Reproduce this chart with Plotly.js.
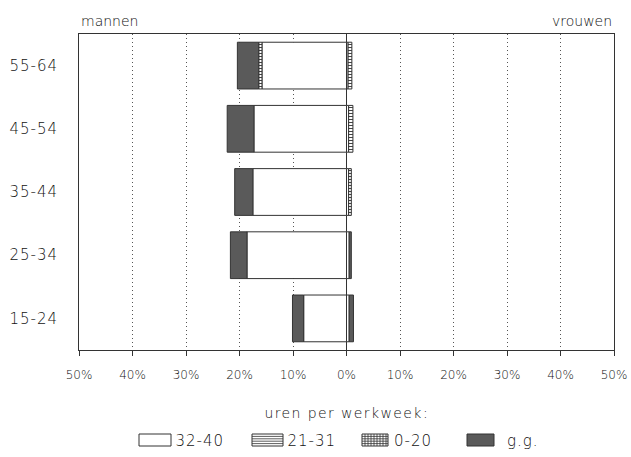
<!DOCTYPE html>
<html>
<head>
<meta charset="utf-8">
<script src="https://cdn.plot.ly/plotly-3.0.1.min.js"></script>
<style>html,body{margin:0;padding:0;background:#fff;}#chart{width:631px;height:457px;}
#chart .ytick text{letter-spacing:1px;}
</style>
</head>
<body>
<div id="chart"></div>
<script>
// Age groups (bottom to top)
var ageGroups = ['15-24', '25-34', '35-44', '45-54', '55-64'];
// Percentages, men (drawn to the left) and women (drawn to the right)
var men_32_40 = [8.0, 18.6, 17.5, 17.3, 15.8];
var men_21_31 = [null, null, null, null, 0.6];
var men_0_20  = [null, null, null, null, null];
var men_gg    = [2.1, 3.1, 3.4, 5.0, 4.0];
var women_32_40 = [0.5, 0.5, 0.4, 0.4, 0.3];
var women_21_31 = [null, null, 0.5, 0.8, 0.7];
var women_0_20  = [null, null, null, null, null];
var women_gg    = [0.8, 0.4, null, null, null];
var seriesNames = ['32-40', '21-31', '0-20', 'g.g.'];
var tickVals = [-50, -40, -30, -20, -10, 0, 10, 20, 30, 40, 50];
var tickText = ['50%', '40%', '30%', '20%', '10%', '0%', '10%', '20%', '30%', '40%', '50%'];
var legendTitle = 'uren per werkweek:';

var ink = '#333';
var txt = '#111';
var dark = '#5a5a5a';
var outline = {color: ink, width: 1};
var styles = [
  {color: '#ffffff', line: outline},
  {color: '#ffffff', line: outline, pattern: {shape: '-', fgcolor: '#444', bgcolor: '#fff', size: 3, solidity: 0.35}},
  {color: '#ffffff', line: outline, pattern: {shape: '+', fgcolor: '#444', bgcolor: '#fff', size: 3, solidity: 0.3}},
  {color: dark, line: outline}
];
var menSeries = [men_32_40, men_21_31, men_0_20, men_gg];
var womenSeries = [women_32_40, women_21_31, women_0_20, women_gg];

var traces = [];
seriesNames.forEach(function (name, i) {
  traces.push({
    type: 'bar', orientation: 'h', name: name, legendgroup: name,
    y: ageGroups,
    x: menSeries[i].map(function (v) { return v == null ? null : -v; }),
    marker: styles[i], showlegend: false, hoverinfo: 'skip'
  });
  traces.push({
    type: 'bar', orientation: 'h', name: name, legendgroup: name,
    y: ageGroups, x: womenSeries[i],
    marker: styles[i], showlegend: false, hoverinfo: 'skip'
  });
});

var fam = '"DejaVu Sans", sans-serif';
var wt = 200;
var M = {l: 79, r: 17, t: 34, b: 107};
var W = 631, H = 457;
var pw = W - M.l - M.r, ph = H - M.t - M.b;
function px(x) { return (x - M.l) / pw; }
function py(y) { return (H - M.b - y) / ph; }

// Hand-drawn legend (wide boxes like the original)
var shapes = [];
var annotations = [];
var legBoxes = [[139, 171], [252, 283], [362, 388], [467, 494]];
var legText = [176, 288, 394, 507];
var by0 = 434, by1 = 446;
legBoxes.forEach(function (b, i) {
  shapes.push({type: 'rect', xref: 'paper', yref: 'paper', x0: px(b[0]), x1: px(b[1]), y0: py(by1), y1: py(by0),
    fillcolor: i === 3 ? dark : '#fff', line: {color: ink, width: 1}});
  if (i === 1 || i === 2) {
    for (var yy = by0 + 2.4; yy < by1 - 0.5; yy += 2.4) {
      shapes.push({type: 'line', xref: 'paper', yref: 'paper', x0: px(b[0]), x1: px(b[1]), y0: py(yy), y1: py(yy), line: {color: ink, width: 0.8}});
    }
  }
  if (i === 2) {
    for (var xx = b[0] + 3; xx < b[1] - 0.5; xx += 3) {
      shapes.push({type: 'line', xref: 'paper', yref: 'paper', x0: px(xx), x1: px(xx), y0: py(by0), y1: py(by1), line: {color: ink, width: 0.8}});
    }
  }
  annotations.push({text: seriesNames[i], xref: 'paper', yref: 'paper', x: px(legText[i]), y: py(440.5),
    xanchor: 'left', yanchor: 'middle', showarrow: false, font: {size: 15, color: txt, family: fam, weight: wt}});
});

annotations.push(
  {text: 'mannen', xref: 'paper', yref: 'paper', x: 0, y: 1, xanchor: 'left', yanchor: 'bottom', yshift: 3, showarrow: false, font: {size: 14, color: txt, family: fam, weight: wt}},
  {text: 'vrouwen', xref: 'paper', yref: 'paper', x: 1, y: 1, xanchor: 'right', yanchor: 'bottom', yshift: 3, showarrow: false, font: {size: 14, color: txt, family: fam, weight: wt}},
  {text: legendTitle, xref: 'x', yref: 'paper', x: 0, y: py(413), xanchor: 'center', yanchor: 'middle', showarrow: false, font: {size: 14, color: txt, family: fam, weight: wt}}
);

var layout = {
  width: W, height: H,
  margin: {l: M.l, r: M.r, t: M.t, b: M.b, autoexpand: false},
  paper_bgcolor: '#fff', plot_bgcolor: '#fff',
  barmode: 'relative', bargap: 0.26,
  font: {family: fam, color: txt, size: 13, weight: wt},
  showlegend: false,
  xaxis: {
    range: [-50, 50], tickvals: tickVals, ticktext: tickText,
    showgrid: true, gridcolor: '#555', griddash: '1px,3px', gridwidth: 1,
    zeroline: true, zerolinecolor: ink, zerolinewidth: 1,
    showline: true, linecolor: ink, linewidth: 1, mirror: true,
    ticks: 'outside', ticklen: 5, tickcolor: ink,
    ticklabelstandoff: 9, tickfont: {size: 12, color: txt, family: fam, weight: wt},
    fixedrange: true
  },
  yaxis: {
    categoryorder: 'array', categoryarray: ageGroups,
    range: [-0.5, 4.5],
    showgrid: false, zeroline: false,
    showline: true, linecolor: ink, linewidth: 1, mirror: true,
    ticks: '', ticklabelstandoff: 17,
    tickfont: {size: 15, color: txt, family: fam, weight: wt},
    fixedrange: true
  },
  shapes: shapes,
  annotations: annotations
};

Plotly.newPlot('chart', traces, layout, {displayModeBar: false, staticPlot: true}).then(function () {
  var anns = document.querySelectorAll('#chart .annotation-text');
  anns.forEach(function (t) {
    if (t.textContent === legendTitle) t.style.letterSpacing = '1.4px';
    if (seriesNames.indexOf(t.textContent) >= 0) t.style.letterSpacing = '1px';
  });
});
</script>
</body>
</html>
